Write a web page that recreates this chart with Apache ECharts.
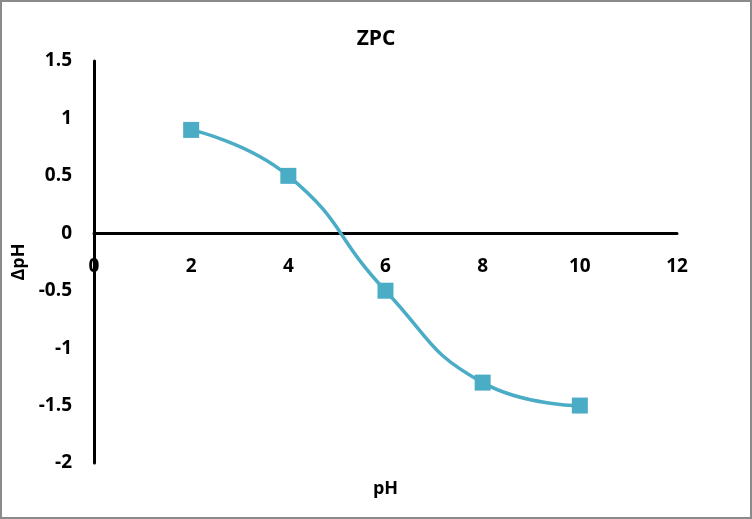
<!DOCTYPE html>
<html>
<head>
<meta charset="utf-8">
<script src="https://cdn.jsdelivr.net/npm/echarts@6/dist/echarts.min.js"></script>
<style>
  html, body { margin: 0; padding: 0; background: #fff; }
  #main { width: 752px; height: 519px; box-sizing: border-box; border: 2px solid #8a8a8a; }
</style>
</head>
<body>
<div id="main"></div>
<script>
var phValues = [2, 4, 6, 8, 10];
var deltaPH = [0.9, 0.5, -0.5, -1.3, -1.5];

var chart = echarts.init(document.getElementById('main'));
var font = '"Open Sans", "Noto Sans", sans-serif';

var points = phValues.map(function (x, i) { return [x, deltaPH[i]]; });

// y=0 sits 230px above the bottom of the plot (range -2..1.5 over 402px)
var zeroOffset = -230;

chart.setOption({
  animation: false,
  title: {
    text: 'ZPC',
    left: 'center',
    top: 22,
    textStyle: { fontFamily: font, fontSize: 21, fontWeight: 'bold', color: '#000' }
  },
  grid: { left: 92, right: 73, top: 59, bottom: 54, containLabel: false, outerBoundsMode: 'none' },
  xAxis: {
    type: 'value',
    min: 0, max: 12, interval: 2,
    offset: zeroOffset,
    name: 'pH',
    nameLocation: 'middle',
    nameGap: 247,
    nameTextStyle: { fontFamily: font, fontSize: 18, fontWeight: 'bold', color: '#000' },
    axisLine: { onZero: false, lineStyle: { color: '#000', width: 3 } },
    axisTick: { show: false },
    splitLine: { show: false },
    axisLabel: { margin: 24, fontFamily: font, fontSize: 19, fontWeight: 'bold', color: '#000' }
  },
  yAxis: {
    type: 'value',
    min: -2, max: 1.5, interval: 0.5,
    name: 'ΔpH',
    nameLocation: 'middle',
    nameGap: 56,
    nameRotate: 90,
    nameTextStyle: { fontFamily: font, fontSize: 18, fontWeight: 'bold', color: '#000', padding: [0, 0, 0, 0] },
    axisLine: { show: true, onZero: false, lineStyle: { color: '#000', width: 3 } },
    axisTick: { show: false },
    splitLine: { show: false },
    axisLabel: { margin: 22, fontFamily: font, fontSize: 19, fontWeight: 'bold', color: '#000' }
  },
  series: [{
    type: 'line',
    data: points,
    smooth: 0.5,
    symbol: 'rect',
    symbolSize: 16,
    lineStyle: { color: '#4BACC6', width: 3.5 },
    itemStyle: { color: '#4BACC6' }
  }]
});
</script>
</body>
</html>
